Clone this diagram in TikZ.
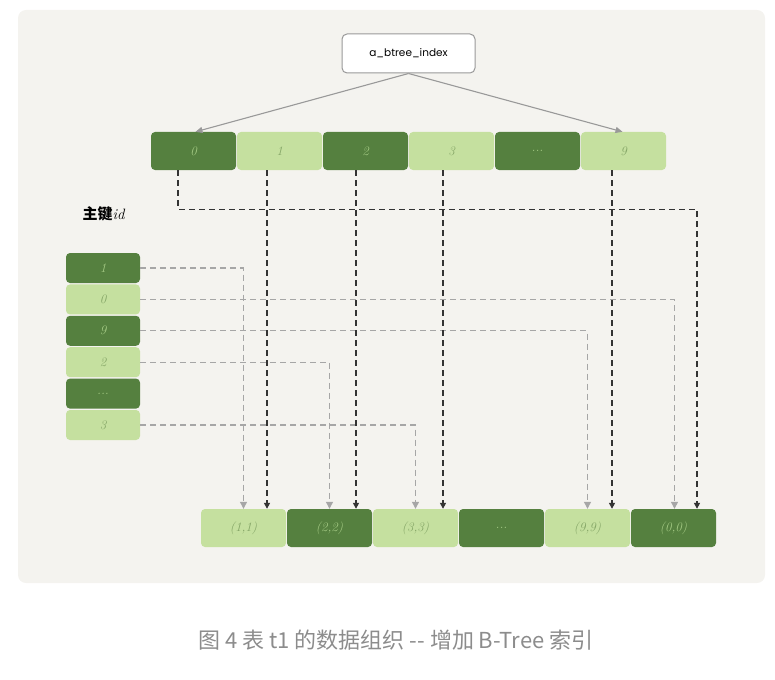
\documentclass[tikz,border=0pt]{standalone}
\usepackage{fontspec}
\usetikzlibrary{arrows.meta}
\newfontfamily\cjkfont{Noto Sans CJK SC}
\newfontfamily\rootfont{Poppins}
\definecolor{darkleaf}{HTML}{55803F}
\definecolor{lightleaf}{HTML}{C5E09F}
\definecolor{darkleaftext}{HTML}{A3C983}
\definecolor{lightleaftext}{HTML}{84A566}
\definecolor{panel}{HTML}{F4F3EF}
\definecolor{capgray}{HTML}{8C8C8C}
\begin{document}
\begin{tikzpicture}[x=1pt,y=-1pt,
    darkcell/.style={fill=darkleaf,text=darkleaftext,rounded corners=4pt,inner sep=0pt,font=\itshape\fontsize{13}{13}\selectfont},
    lightcell/.style={fill=lightleaf,text=lightleaftext,rounded corners=4pt,inner sep=0pt,font=\itshape\fontsize{13}{13}\selectfont},
    keycell/.style={minimum width=85pt,minimum height=38pt},
    idcell/.style={minimum width=74pt,minimum height=30pt},
    rowcell/.style={minimum width=85pt,minimum height=38pt},
    blk/.style={dash pattern=on 6pt off 4pt,line width=1.4pt,black!80,-{Triangle[length=6pt,width=6pt]}},
    gry/.style={dash pattern=on 6pt off 4pt,line width=1.1pt,black!35,-{Triangle[length=7pt,width=7pt]}},
    tip/.style={draw=black!40,line width=1.1pt,-{Triangle[length=7pt,width=6pt]}}]
  \useasboundingbox (0,0) rectangle (775,679);
  \fill[panel,rounded corners=8pt] (18,10) rectangle (765,583);
  \node[draw=black!40,line width=1pt,fill=white,rounded corners=5pt,minimum width=133pt,minimum height=39pt,font=\rootfont\fontsize{10.5}{11}\selectfont] (root) at (408.5,53.5) {a\_btree\_index};
  % index entries
  \draw
    (193.5,151) node[darkcell,keycell] (t0) {0}
    (279.5,151) node[lightcell,keycell] (t1) {1}
    (365.5,151) node[darkcell,keycell] (t2) {2}
    (451.5,151) node[lightcell,keycell] (t3) {3}
    (537.5,151) node[darkcell,keycell] (tx) {...}
    (623.5,151) node[lightcell,keycell] (t9) {9};
  % primary keys
  \node[font=\fontsize{15}{15}\selectfont] (keyhead) at (104,214) {{\cjkfont\bfseries 主键}\textit{id}};
  \draw
    (103,268) node[darkcell,idcell] (k1) {1}
    (103,299.4) node[lightcell,idcell] (k0) {0}
    (103,330.8) node[darkcell,idcell] (k9) {9}
    (103,362.2) node[lightcell,idcell] (k2) {2}
    (103,393.6) node[darkcell,idcell] (kx) {...}
    (103,425) node[lightcell,idcell] (k3) {3};
  % rows
  \draw
    (243.5,528) node[lightcell,rowcell] (b1) {(1,1)}
    (329.5,528) node[darkcell,rowcell] (b2) {(2,2)}
    (415.5,528) node[lightcell,rowcell] (b3) {(3,3)}
    (501.5,528) node[darkcell,rowcell] (bx) {...}
    (587.5,528) node[lightcell,rowcell] (b9) {(9,9)}
    (673.5,528) node[darkcell,rowcell] (b0) {(0,0)};
  \coordinate (e1) at ([xshift=23.5pt]b1.north);
  \coordinate (e2) at ([xshift=26.5pt]b2.north);
  \coordinate (e3) at ([xshift=27.5pt]b3.north);
  \coordinate (e9) at ([xshift=24.5pt]b9.north);
  \coordinate (e0) at ([xshift=23.5pt]b0.north);
  \begin{scope}
    \draw[tip] (root.south) to ([xshift=2pt]t0.north);
    \draw[tip] (root.south) to ([xshift=-1pt]t9.north);
    \draw[gry] (k1.east) -| (b1.north);
    \draw[gry] (k0.east) -| ([xshift=1pt]b0.north);
    \draw[gry] (k9.east) -| (b9.north);
    \draw[gry] (k2.east) -| (b2.north);
    \draw[gry] (k3.east) -| (b3.north);
    \draw[blk] ([xshift=-15.5pt]t0.south) -- ++(0,39) -| (e0);
    \draw[blk] (t1.south -| e1) -- (e1);
    \draw[blk] (t2.south -| e2) -- (e2);
    \draw[blk] (t3.south -| e3) -- (e3);
    \draw[blk] (t9.south -| e9) -- (e9);
  \end{scope}
  \node[text=capgray,font=\cjkfont\fontsize{22}{22}\selectfont] (caption) at (396,640) {图 4 表 t1 的数据组织 -- 增加 B-Tree 索引};
\end{tikzpicture}
\end{document}
